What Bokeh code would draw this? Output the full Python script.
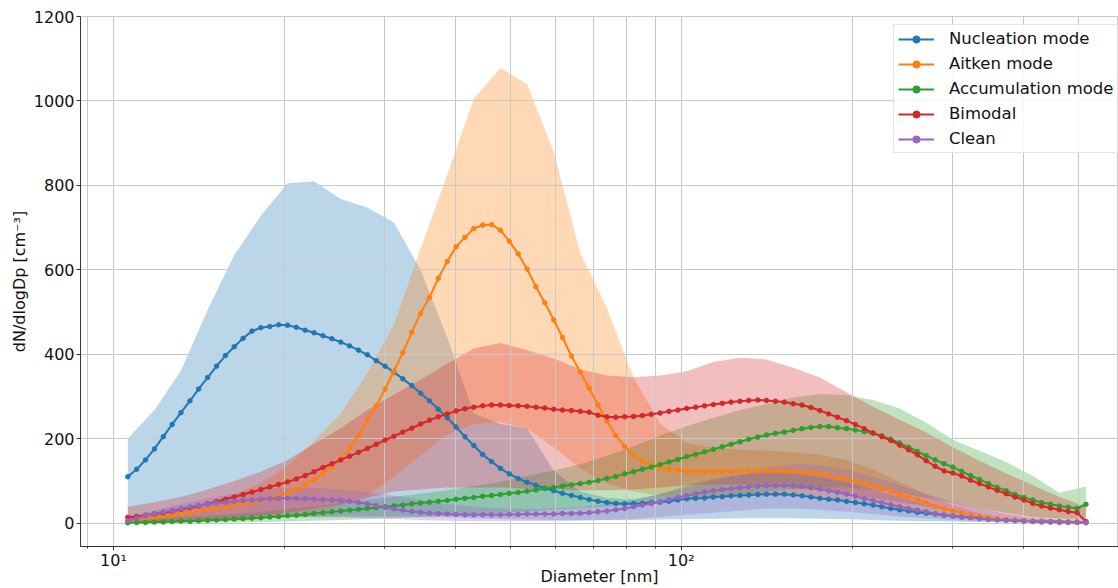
from bokeh.plotting import figure
from bokeh.models import Range1d, FixedTicker, Legend, LegendItem
from bokeh.embed import file_html
from bokeh.resources import INLINE

# Particle diameter bins [nm]
diameter_nm = [
    10.60, 10.99, 11.39, 11.81, 12.24, 12.69, 13.15, 13.64, 14.13, 14.65,
    15.19, 15.75, 16.32, 16.92, 17.54, 18.18, 18.85, 19.54, 20.26, 21.00,
    21.77, 22.56, 23.39, 24.25, 25.14, 26.06, 27.01, 28.00, 29.03, 30.09,
    31.19, 32.33, 33.52, 34.75, 36.02, 37.34, 38.71, 40.13, 41.60, 43.12,
    44.70, 46.34, 48.03, 49.79, 51.62, 53.51, 55.47, 57.50, 59.61, 61.79,
    64.05, 66.40, 68.83, 71.35, 73.97, 76.68, 79.49, 82.40, 85.42, 88.55,
    91.79, 95.15, 98.64, 102.25, 106.0, 109.9, 113.9, 118.1, 122.4, 126.9,
    131.5, 136.4, 141.3, 146.5, 151.9, 157.5, 163.2, 169.2, 175.4, 181.8,
    188.5, 195.4, 202.6, 210.0, 217.7, 225.6, 233.9, 242.5, 251.4, 260.6,
    270.1, 280.0, 290.3, 300.9, 311.9, 323.3, 335.2, 347.5, 360.2, 373.4,
    387.1, 401.3, 416.0, 431.2, 447.0, 463.4, 480.3, 497.9, 516.2,
]
# the spread bands are stored on every third bin
band_diameter_nm = diameter_nm[::3]

# Median size distributions, dN/dlogDp [cm^-3]
nucleation = [
    110, 128, 150, 176, 205, 234, 262, 290, 318, 345,
    372, 397, 418, 438, 455, 463, 466, 470, 469, 464,
    457, 451, 444, 437, 429, 420, 410, 399, 385, 372,
    358, 342, 326, 308, 290, 270, 250, 228, 205, 184,
    163, 146, 130, 117, 106, 97, 90, 83, 77, 71,
    66, 61, 56, 52, 49, 47, 46, 46, 47, 49,
    50, 52, 55, 58, 59, 60, 62, 63, 65, 66,
    67, 68, 69, 69, 69, 67, 65, 62, 59, 57,
    55, 52, 49, 46, 43, 39, 35, 32, 29, 26,
    24, 22, 19, 17, 15, 14, 12, 11, 9, 8,
    7, 6, 5, 5, 4, 4, 3, 3, 2,
]
aitken = [
    4, 7, 10, 13, 16, 19, 22, 26, 29, 32,
    35, 38, 42, 46, 50, 55, 60, 66, 72, 80,
    92, 104, 118, 134, 152, 178, 208, 245, 278, 318,
    360, 404, 452, 497, 535, 580, 620, 655, 677, 698,
    706, 707, 694, 668, 638, 602, 560, 522, 482, 440,
    396, 358, 320, 280, 242, 208, 182, 162, 147, 138,
    132, 128, 126, 124, 123, 123, 123, 123, 123, 124,
    124, 124, 124, 124, 123, 122, 121, 119, 117, 114,
    108, 104, 99, 94, 88, 82, 76, 68, 63, 56,
    48, 40, 34, 29, 24, 20, 16, 13, 11, 9,
    7, 6, 5, 4, 3, 3, 2, 2, 2,
]
accumulation = [
    1, 2, 2, 3, 3, 4, 5, 5, 6, 7,
    8, 9, 10, 11, 12, 13, 15, 16, 18, 19,
    21, 23, 25, 27, 29, 31, 33, 35, 37, 39,
    41, 43, 46, 48, 50, 52, 54, 57, 59, 61,
    64, 66, 68, 71, 73, 76, 79, 82, 85, 88,
    91, 94, 97, 101, 106, 111, 117, 122, 128, 133,
    139, 145, 151, 158, 163, 169, 175, 181, 187, 193,
    199, 204, 209, 213, 216, 220, 224, 227, 229, 229,
    226, 224, 221, 217, 213, 207, 199, 190, 180, 170,
    160, 150, 141, 133, 123, 113, 104, 94, 85, 77,
    68, 61, 55, 49, 45, 41, 38, 35, 45,
]
bimodal = [
    14, 16, 19, 22, 25, 29, 33, 37, 41, 46,
    51, 57, 62, 68, 74, 80, 86, 92, 98, 105,
    113, 122, 132, 141, 150, 159, 168, 177, 187, 197,
    206, 216, 225, 235, 244, 252, 259, 266, 271, 275,
    278, 280, 280, 279, 278, 277, 275, 273, 270, 268,
    267, 265, 263, 256, 252, 251, 252, 253, 255, 258,
    261, 265, 268, 272, 275, 278, 281, 284, 287, 289,
    291, 292, 291, 289, 287, 283, 280, 274, 267, 259,
    251, 243, 234, 224, 214, 205, 196, 185, 174, 162,
    148, 135, 124, 119, 112, 102, 94, 86, 78, 70,
    62, 55, 47, 41, 36, 32, 28, 25, 4,
]
clean = [
    6, 12, 18, 23, 27, 31, 35, 39, 42, 45,
    48, 50, 52, 54, 55, 57, 58, 59, 59, 59,
    58, 57, 56, 55, 54, 52, 49, 46, 42, 38,
    34, 31, 28, 26, 24, 23, 22, 21, 20, 20,
    20, 20, 20, 21, 21, 22, 22, 22, 22, 23,
    23, 24, 25, 27, 29, 32, 35, 39, 43, 47,
    51, 56, 61, 66, 70, 74, 77, 80, 82, 84,
    86, 88, 89, 89, 89, 88, 87, 84, 81, 77,
    73, 69, 64, 59, 54, 49, 44, 39, 35, 31,
    27, 23, 20, 17, 15, 13, 11, 9, 8, 7,
    6, 5, 4, 3, 3, 2, 2, 2, 1,
]

# Spread of each class (lower / upper bound), on band_diameter_nm
nucleation_lo = [0, 2, 5, 8, 10, 12, 14, 15, 16, 16, 16, 15, 14, 12, 10, 9, 8, 8, 8,
                 8, 9, 10, 11, 12, 12, 12, 11, 10, 8, 6, 5, 4, 3, 2, 2, 1, 1]
nucleation_hi = [201, 268, 362, 505, 635, 728, 805, 810, 768, 748, 712, 600, 440, 260,
                 235, 225, 125, 75, 60, 56, 68, 90, 105, 115, 120, 118, 110, 98, 80,
                 62, 45, 32, 22, 15, 10, 7, 5]
aitken_lo = [0, 1, 2, 4, 6, 10, 15, 25, 40, 65, 110, 160, 210, 235, 240, 225, 180, 130,
             95, 75, 65, 62, 62, 64, 66, 66, 62, 55, 45, 35, 25, 16, 10, 6, 3, 2, 1]
aitken_hi = [15, 22, 33, 48, 68, 95, 135, 195, 260, 355, 470, 650, 825, 1005, 1078,
             1040, 880, 640, 510, 345, 236, 190, 178, 174, 172, 168, 162, 150, 128, 98,
             68, 42, 24, 13, 7, 4, 3]
accumulation_lo = [0, 0, 1, 1, 2, 3, 4, 6, 8, 10, 12, 15, 18, 21, 25, 28, 32, 36, 40,
                   45, 50, 56, 62, 68, 75, 80, 85, 85, 80, 72, 60, 48, 35, 25, 15, 12, 10]
accumulation_hi = [10, 12, 15, 18, 22, 27, 33, 40, 48, 56, 63, 70, 78, 88, 98, 112, 125,
                   140, 160, 182, 208, 230, 250, 268, 282, 298, 306, 303, 292, 272, 238,
                   198, 172, 145, 112, 72, 87]
bimodal_lo = [2, 3, 5, 8, 12, 18, 25, 35, 45, 60, 75, 80, 85, 85, 85, 82, 80, 78, 78,
              80, 85, 90, 92, 92, 90, 85, 78, 70, 60, 50, 40, 30, 22, 15, 10, 6, 4]
bimodal_hi = [39, 50, 62, 80, 100, 122, 150, 188, 225, 268, 305, 340, 378, 414, 427,
              410, 390, 365, 350, 346, 350, 360, 382, 392, 388, 368, 345, 310, 276, 245,
              215, 180, 148, 118, 90, 62, 40]
clean_lo = [0, 2, 5, 8, 10, 12, 15, 15, 14, 12, 10, 8, 6, 5, 5, 5, 5, 6, 8, 10, 15, 20,
            25, 30, 35, 35, 32, 27, 22, 16, 12, 8, 5, 3, 2, 1, 1]
clean_hi = [15, 30, 45, 58, 70, 80, 85, 84, 80, 73, 65, 55, 45, 40, 35, 34, 35, 38, 45,
            55, 70, 85, 100, 115, 130, 140, 138, 128, 110, 90, 70, 50, 35, 22, 12, 7, 4]

labels = ["Nucleation mode", "Aitken mode", "Accumulation mode", "Bimodal", "Clean"]
colors = ["#1f77b4", "#ff7f0e", "#2ca02c", "#d62728", "#9467bd"]
medians = [nucleation, aitken, accumulation, bimodal, clean]
lowers = [nucleation_lo, aitken_lo, accumulation_lo, bimodal_lo, clean_lo]
uppers = [nucleation_hi, aitken_hi, accumulation_hi, bimodal_hi, clean_hi]

x_major = [10, 100]
x_minor = [9, 20, 30, 40, 50, 60, 70, 80, 90, 200, 300, 400, 500]
y_ticks = [0, 200, 400, 600, 800, 1000, 1200]

FONT = "DejaVu Sans"
GRID = "#c9c9c9"

p = figure(
    width=1118, height=588,
    x_axis_type="log",
    x_range=Range1d(8.75, 589), y_range=Range1d(-55, 1200),
    output_backend="svg", toolbar_location=None,
    min_border_left=80, min_border_right=0, min_border_top=16, min_border_bottom=41,
)
p.background_fill_color = "white"
p.border_fill_color = "white"
p.outline_line_color = GRID

# axes
p.xaxis.ticker = FixedTicker(ticks=x_major, minor_ticks=x_minor)
p.xaxis.major_label_overrides = {10: "10\u00b9", 100: "10\u00b2"}
p.yaxis.ticker = FixedTicker(ticks=y_ticks)
p.xaxis.axis_label = "Diameter [nm]"
p.yaxis.axis_label = "dN/dlogDp [cm\u207b\u00b3]"
for ax in (p.xaxis, p.yaxis):
    ax.axis_line_color = "#333333"
    ax.major_tick_line_color = "#333333"
    ax.minor_tick_line_color = "#333333"
    ax.major_tick_out = 4
    ax.major_tick_in = 0
    ax.minor_tick_out = 2
    ax.minor_tick_in = 0
    ax.major_label_standoff = 2
    ax.axis_label_standoff = 2
    ax.major_label_text_font = FONT
    ax.major_label_text_font_size = "16px"
    ax.major_label_text_color = "#111111"
    ax.axis_label_text_font = FONT
    ax.axis_label_text_font_size = "16px"
    ax.axis_label_text_font_style = "normal"
    ax.axis_label_text_color = "#111111"
p.yaxis.minor_tick_line_color = None
p.xaxis.major_label_standoff = 0
p.xaxis.axis_label_standoff = -6

# grid sits above the shaded bands and below the median lines
p.xgrid.grid_line_color = GRID
p.xgrid.minor_grid_line_color = GRID
p.ygrid.grid_line_color = GRID
p.xgrid.level = "glyph"
p.ygrid.level = "glyph"

# shaded spread for each class
for lo, hi, c in zip(lowers, uppers, colors):
    p.varea(x=band_diameter_nm, y1=lo, y2=hi, fill_color=c, fill_alpha=0.3,
            level="underlay")

# median curves with bin markers
items = []
for lab, med, c in zip(labels, medians, colors):
    ln = p.line(diameter_nm, med, line_color=c, line_width=2, level="guide")
    sc = p.scatter(diameter_nm, med, size=4.5, fill_color=c, line_color=c,
                   level="guide")
    items.append(LegendItem(label=lab, renderers=[ln, sc]))

legend = Legend(
    items=items, location=(813, 393),
    label_text_font=FONT, label_text_font_size="16.5px", label_text_color="#111111",
    glyph_width=36, glyph_height=18, label_height=18, label_width=160,
    spacing=6, padding=4, margin=0, label_standoff=15,
    background_fill_color="white", background_fill_alpha=0.85,
    border_line_color="#cccccc", border_line_width=1,
)
p.add_layout(legend)

open("out.html", "w").write(file_html(p, INLINE))
